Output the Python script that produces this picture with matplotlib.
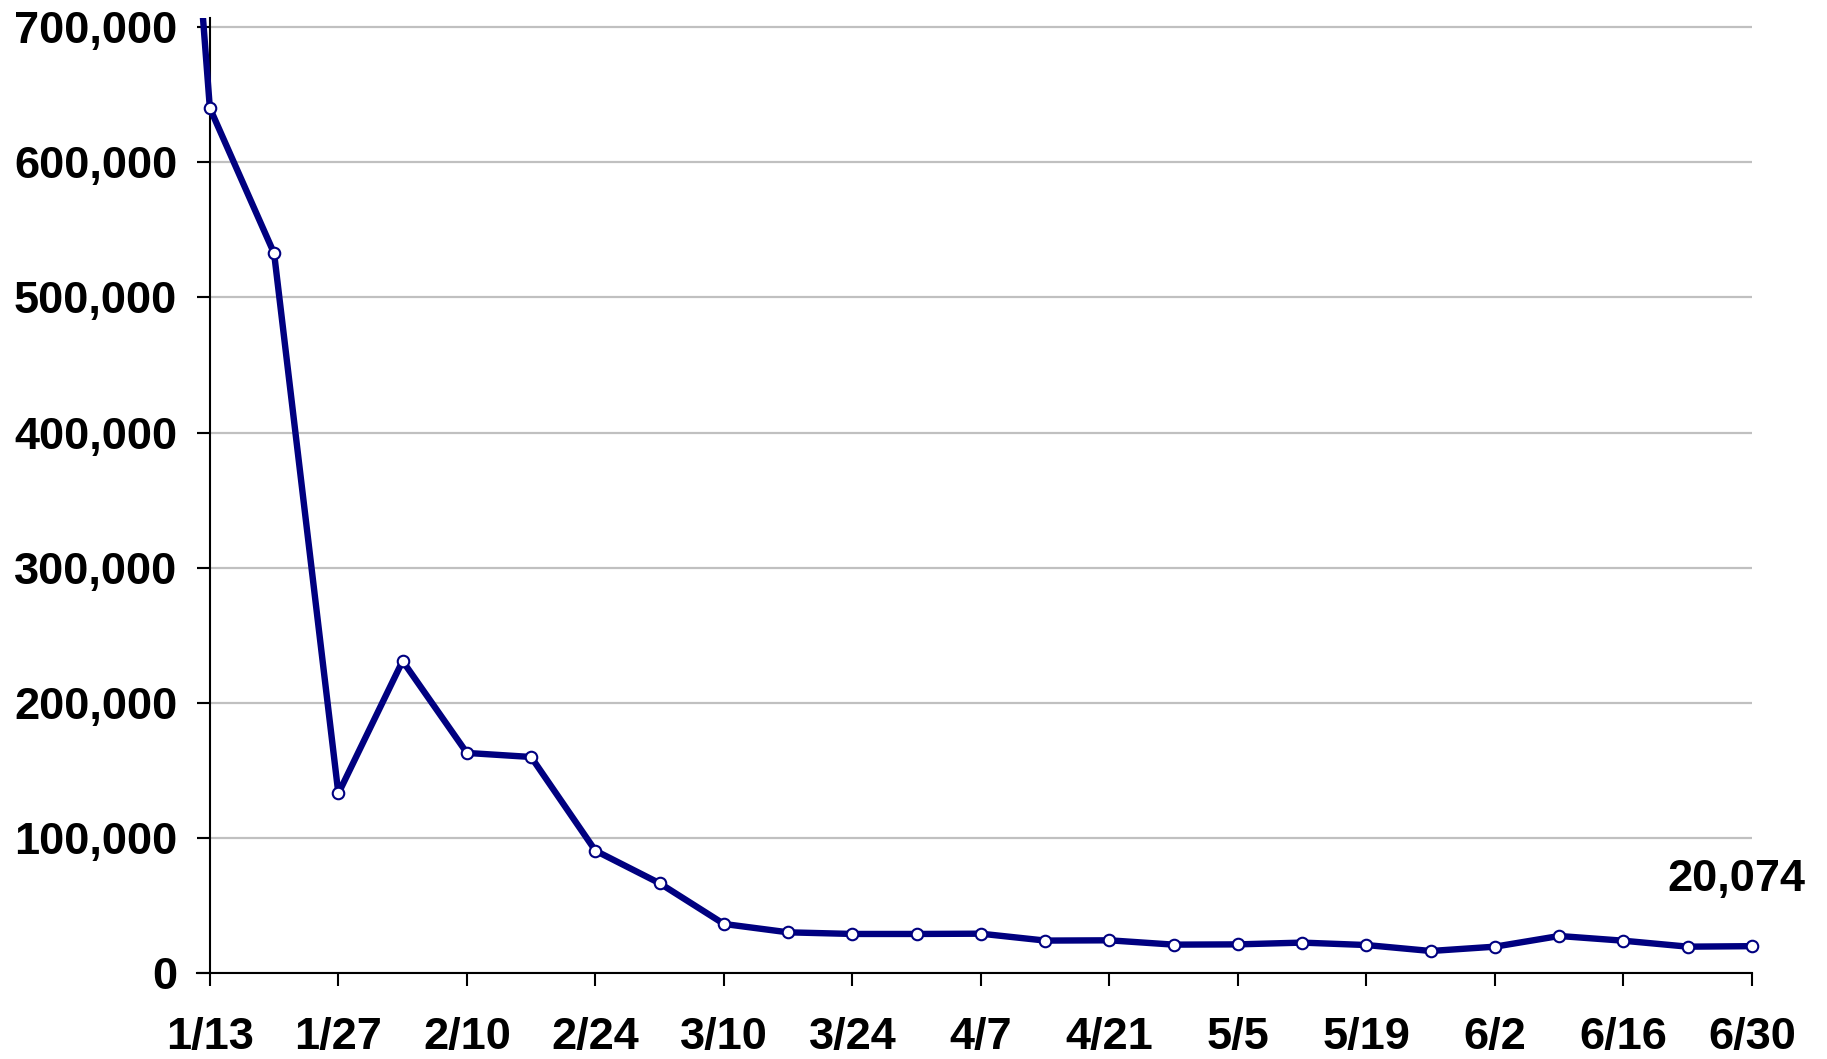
import matplotlib
matplotlib.use("Agg")
import matplotlib.pyplot as plt
from matplotlib.ticker import FuncFormatter

plt.rcParams['font.family'] = ['Liberation Sans', 'DejaVu Sans']

week_labels = ["1/6", "1/13", "1/20", "1/27", "2/3", "2/10", "2/17", "2/24",
               "3/3", "3/10", "3/17", "3/24", "3/31", "4/7", "4/14", "4/21",
               "4/28", "5/5", "5/12", "5/19", "5/26", "6/2", "6/9", "6/16",
               "6/23", "6/30"]
values = [1263000, 640000, 532500, 133000, 231000, 163000, 160000, 90700,
          66600, 36500, 30300, 29100, 29100, 29300, 24200, 24400,
          21200, 21400, 22700, 20900, 16500, 19700, 27600, 24100,
          19700, 20074]
y_ticks = [0, 100000, 200000, 300000, 400000, 500000, 600000, 700000]
last_label = "20,074"

navy = "#000080"
xs = list(range(len(values)))

fig = plt.figure(figsize=(18.27, 10.59), dpi=100)
ax = fig.add_axes([197/1827, 1 - 973.3/1059, (1752 - 197)/1827, (973.3 - 18)/1059])

ax.set_axisbelow(True)
ax.grid(axis='y', color='#c0c0c0', linewidth=1.6)
ax.grid(axis='x', visible=False)

ax.plot(xs, values, color=navy, linewidth=4.6, solid_joinstyle='round',
        zorder=3)
ax.plot(xs[1:], values[1:], linestyle='none', marker='o', markersize=8.3,
        markerfacecolor='white', markeredgecolor=navy, markeredgewidth=1.5,
        clip_on=False, zorder=4)

ax.set_xlim(1 - 0.2, len(values) - 1)
ax.set_ylim(0, 706600)

ax.spines['left'].set_position(('data', 1))
ax.spines['right'].set_visible(False)
ax.spines['top'].set_visible(False)
for s in ('left', 'bottom'):
    ax.spines[s].set_linewidth(1.5)
    ax.spines[s].set_color('black')

tick_idx = list(range(1, len(values), 2))
ax.set_xticks(tick_idx)
ax.set_xticklabels([week_labels[i] for i in tick_idx])
ax.set_yticks(y_ticks)
ax.yaxis.set_major_formatter(FuncFormatter(lambda v, p: f"{int(v):,}"))

ax.tick_params(axis='both', direction='out', length=9.5, width=1.5,
               labelsize=32.5, colors='black')
ax.tick_params(axis='y', pad=14)
ax.tick_params(axis='x', pad=22)
for lab in ax.get_xticklabels() + ax.get_yticklabels():
    lab.set_fontweight('bold')

ax.annotate(last_label, xy=(xs[-1], values[-1]), xytext=(-16, 55),
            textcoords='offset pixels', ha='center', va='baseline',
            fontsize=32.5, fontweight='bold', color='black',
            annotation_clip=False)

fig.savefig("out.png", dpi=100, facecolor='white')
